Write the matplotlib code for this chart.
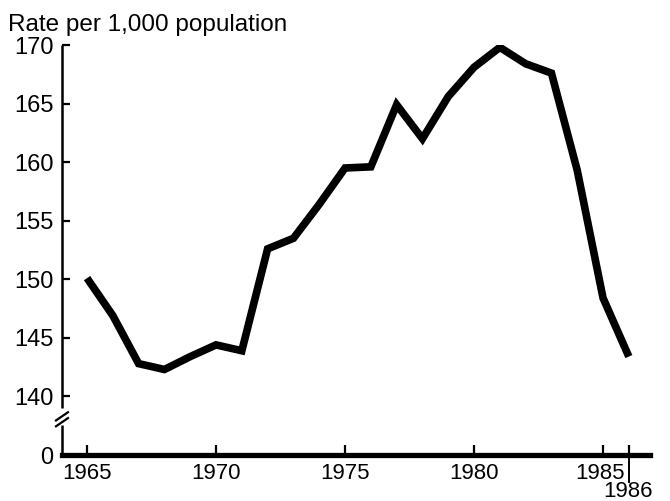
import matplotlib
matplotlib.use('Agg')
import matplotlib.pyplot as plt

# === DATA ===
years = [1965, 1966, 1967, 1968, 1969, 1970, 1971, 1972, 1973, 1974, 1975,
         1976, 1977, 1978, 1979, 1980, 1981, 1982, 1983, 1984, 1985, 1986]
rates = [150.1, 146.9, 142.8, 142.3, 143.4, 144.4, 143.9, 152.6, 153.5, 156.4, 159.5,
         159.6, 164.9, 162.0, 165.6, 168.1, 169.8, 168.4, 167.6, 159.3, 148.4, 143.4]
y_ticks = [140, 145, 150, 155, 160, 165, 170]
x_ticks = [1965, 1970, 1975, 1980, 1985]
last_year = 1986

# the zero baseline sits just below the axis break
zero_pos = 135

plt.rcParams['font.family'] = ['Liberation Sans', 'DejaVu Sans']

fig = plt.figure(figsize=(6.7, 5.01), dpi=100)
ax = fig.add_axes([62 / 670, 1 - 455 / 501, 588 / 670, 410 / 501])

ax.plot(years, rates, color='black', lw=5.5, solid_joinstyle='miter',
        solid_capstyle='butt', zorder=3)

ax.set_xlim(1964.03, 1986.82)
ax.set_ylim(zero_pos, 170)

# y axis with break
ax.spines['left'].set_visible(False)
ax.spines['top'].set_visible(False)
ax.spines['right'].set_visible(False)
ax.spines['bottom'].set_linewidth(3.8)
ytr = ax.get_yaxis_transform()
ax.plot([0, 0], [170, 139.0], transform=ytr, color='black', lw=1.8,
        clip_on=False, solid_capstyle='butt')
ax.plot([0, 0], [137.6, zero_pos], transform=ytr, color='black', lw=1.8,
        clip_on=False, solid_capstyle='butt')
dx = 6 / 588
for yc in [138.3, 137.8]:
    ax.plot([-dx, dx], [yc - 0.35, yc + 0.35], transform=ytr, color='black',
            lw=1.6, clip_on=False)

ax.set_yticks([zero_pos] + y_ticks)
ax.set_yticklabels(['0'] + [str(v) for v in y_ticks])
ax.tick_params(axis='y', direction='in', length=6, width=1.6, labelsize=17, pad=6)
ax.yaxis.get_major_ticks()[0].tick1line.set_visible(False)

# x ticks: marks only, labels drawn as text
ax.set_xticks(x_ticks + [last_year])
ax.set_xticklabels([])
ax.tick_params(axis='x', direction='in', length=7, width=1.6)

xtr = ax.get_xaxis_transform()
for yr in x_ticks:
    xpos = yr - 0.1 if yr == x_ticks[-1] else yr
    ax.text(xpos, -8 / 410, str(yr), transform=xtr, ha='center', va='top',
            fontsize=16)
ax.text(last_year - 0.05, -26 / 410, str(last_year), transform=xtr,
        ha='center', va='top', fontsize=16)

# divider line under the last year
ax.plot([last_year, last_year], [0, -27 / 410], transform=xtr, color='black',
        lw=1.4, clip_on=False)

fig.text(8 / 670, 1 - 31 / 501, 'Rate per 1,000 population', fontsize=17.5,
         ha='left', va='baseline')

fig.savefig('out.png', dpi=100)
